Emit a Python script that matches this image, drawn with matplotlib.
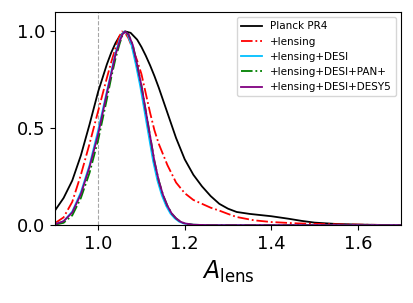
import matplotlib
matplotlib.use("Agg")
import matplotlib.pyplot as plt

# values (normalised posteriors of A_lens)
x_pr4 = [0.90, 0.92, 0.94, 0.96, 0.98, 1.00, 1.02, 1.03, 1.04, 1.05, 1.063, 1.075,
         1.09, 1.10, 1.11, 1.12, 1.13, 1.14, 1.16, 1.18, 1.20, 1.22, 1.24, 1.26,
         1.28, 1.30, 1.32, 1.35, 1.40, 1.44, 1.47, 1.50, 1.55, 1.60, 1.65, 1.70]
y_pr4 = [0.075, 0.14, 0.23, 0.36, 0.52, 0.69, 0.83, 0.89, 0.94, 0.978, 1.0, 0.993,
         0.958, 0.92, 0.875, 0.825, 0.77, 0.71, 0.58, 0.45, 0.34, 0.26, 0.20, 0.15,
         0.11, 0.085, 0.068, 0.058, 0.046, 0.033, 0.022, 0.013, 0.006, 0.003, 0.001, 0.0]

x_lens = [0.90, 0.92, 0.94, 0.96, 0.98, 1.00, 1.02, 1.03, 1.04, 1.048, 1.055, 1.063,
          1.07, 1.08, 1.09, 1.10, 1.11, 1.12, 1.13, 1.14, 1.16, 1.18, 1.20, 1.22,
          1.24, 1.26, 1.28, 1.30, 1.32, 1.36, 1.40, 1.46, 1.55, 1.62, 1.70]
y_lens = [0.01, 0.04, 0.12, 0.26, 0.42, 0.59, 0.76, 0.84, 0.915, 0.97, 1.0, 0.99,
          0.965, 0.91, 0.85, 0.78, 0.68, 0.58, 0.49, 0.42, 0.31, 0.22, 0.165, 0.13,
          0.11, 0.09, 0.075, 0.058, 0.042, 0.025, 0.016, 0.009, 0.004, 0.002, 0.0]

x_desi = [0.90, 0.92, 0.94, 0.96, 0.98, 1.00, 1.02, 1.03, 1.04, 1.05, 1.055, 1.06,
          1.067, 1.077, 1.087, 1.097, 1.107, 1.117, 1.127, 1.137, 1.147, 1.157,
          1.167, 1.177, 1.187, 1.197, 1.217, 1.257, 1.70]
y_desi = [0.004, 0.02, 0.07, 0.17, 0.31, 0.49, 0.69, 0.79, 0.89, 0.96, 0.985, 1.0,
          0.99, 0.93, 0.83, 0.72, 0.59, 0.46, 0.33, 0.23, 0.155, 0.10, 0.06, 0.035,
          0.018, 0.009, 0.002, 0.0, 0.0]

x_pan = [0.90, 0.92, 0.94, 0.96, 0.98, 1.00, 1.02, 1.03, 1.04, 1.05, 1.056, 1.062,
         1.07, 1.08, 1.09, 1.10, 1.11, 1.12, 1.13, 1.14, 1.15, 1.16, 1.17, 1.18,
         1.19, 1.20, 1.22, 1.26, 1.70]
y_pan = [0.002, 0.012, 0.05, 0.14, 0.27, 0.44, 0.65, 0.76, 0.86, 0.94, 0.98, 1.0,
         0.985, 0.93, 0.83, 0.72, 0.59, 0.46, 0.33, 0.23, 0.155, 0.10, 0.06, 0.035,
         0.018, 0.009, 0.002, 0.0, 0.0]

x_desy5 = [0.90, 0.92, 0.94, 0.96, 0.98, 1.00, 1.02, 1.03, 1.04, 1.05, 1.056, 1.062,
           1.07, 1.08, 1.09, 1.10, 1.11, 1.12, 1.13, 1.14, 1.15, 1.16, 1.17, 1.18,
           1.19, 1.20, 1.22, 1.26, 1.70]
y_desy5 = [0.004, 0.02, 0.065, 0.16, 0.30, 0.47, 0.68, 0.78, 0.88, 0.95, 0.985, 1.0,
           0.985, 0.93, 0.83, 0.72, 0.59, 0.46, 0.33, 0.23, 0.155, 0.10, 0.06, 0.035,
           0.018, 0.009, 0.002, 0.0, 0.0]

fig = plt.figure(figsize=(4.13, 3.03), dpi=100)
ax = fig.add_axes([0.133, 0.257, 0.838, 0.703])

ax.axvline(1.0, color="gray", ls="--", lw=0.8, alpha=0.7)
ax.plot(x_pr4, y_pr4, color="black", lw=1.3, label="Planck PR4")
ax.plot(x_lens, y_lens, color="red", ls="-.", lw=1.3, label="+lensing")
ax.plot(x_desi, y_desi, color="deepskyblue", lw=1.3, label="+lensing+DESI")
ax.plot(x_pan, y_pan, color="green", ls="-.", lw=1.3, label="+lensing+DESI+PAN+")
ax.plot(x_desy5, y_desy5, color="purple", lw=1.3, label="+lensing+DESI+DESY5")

ax.set_xlim(0.9, 1.7)
ax.set_ylim(0, 1.1)
ax.set_xticks([1.0, 1.2, 1.4, 1.6])
ax.set_yticks([0.0, 0.5, 1.0])
ax.tick_params(labelsize=13)
ax.set_xlabel(r"$A_{\rm lens}$", fontsize=17)
ax.legend(loc="upper right", fontsize=7.5)

fig.savefig("out.png", dpi=100)
